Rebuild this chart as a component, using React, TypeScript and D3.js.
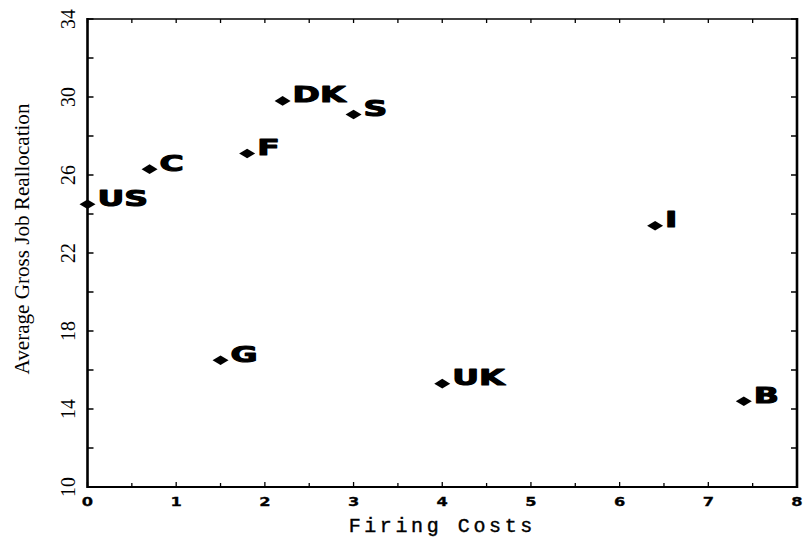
import React from "react";
import * as d3 from "d3";

// Country codes with firing costs (x) and average gross job reallocation (y)
const countries = ["US", "C", "F", "DK", "S", "G", "UK", "I", "B"];
const firingCosts = [0, 0.7, 1.8, 2.2, 3.0, 1.5, 4.0, 6.4, 7.4];
const reallocation = [24.5, 26.3, 27.1, 29.8, 29.1, 16.5, 15.3, 23.4, 14.4];

const xTicks = [0, 1, 2, 3, 4, 5, 6, 7, 8];
const xMinorTicks = d3.range(0, 8.01, 0.5);
const yTicks = [10, 14, 18, 22, 26, 30, 34];
const yMinorTicks = d3.range(10, 34.01, 2);

const W = 806;
const H = 542;
const left = 87.5;
const right = 797;
const top = 19;
const bottom = 487;

export default function App() {
  const x = d3.scaleLinear().domain([0, 8]).range([left, right]);
  const y = d3.scaleLinear().domain([10, 34]).range([bottom, top]);

  const diamond = (cx: number, cy: number) =>
    `M${cx - 8},${cy} L${cx},${cy - 4.8} L${cx + 8},${cy} L${cx},${cy + 4.8} Z`;

  return (
    <svg
      width={W}
      height={H}
      style={{ position: "absolute", left: 0, top: 0, background: "#fff" }}
    >
      {/* frame */}
      <line x1={left} x2={left} y1={top - 1} y2={bottom + 1} stroke="#000" strokeWidth={2.6} />
      <line x1={right} x2={right} y1={top - 1} y2={bottom + 1} stroke="#000" strokeWidth={2.6} />
      <line x1={left} x2={right} y1={top} y2={top} stroke="#000" strokeWidth={1.6} />
      <line x1={left} x2={right} y1={bottom} y2={bottom} stroke="#000" strokeWidth={2.2} />

      {/* x ticks (top and bottom, inward) */}
      {xMinorTicks.map((t) => {
        const major = Number.isInteger(t);
        return (
          <g key={"xt" + t}>
            <line x1={x(t)} x2={x(t)} y1={bottom} y2={bottom - (major ? 5 : 4)} stroke="#000" strokeWidth={1.3} />
            <line x1={x(t)} x2={x(t)} y1={top} y2={top + 4} stroke="#000" strokeWidth={1.3} />
          </g>
        );
      })}

      {/* y ticks (left and right, inward) */}
      {yMinorTicks.map((t) => (
        <g key={"yt" + t}>
          <line x1={left} x2={left + 6} y1={y(t)} y2={y(t)} stroke="#000" strokeWidth={1.5} />
          <line x1={right} x2={right - 6} y1={y(t)} y2={y(t)} stroke="#000" strokeWidth={1.5} />
        </g>
      ))}

      {/* x tick labels */}
      {xTicks.map((t) => (
        <text
          key={"xl" + t}
          transform={`translate(${x(t)},${bottom + 19}) scale(1.25,1)`}
          textAnchor="middle"
          fontFamily="DejaVu Sans"
          fontWeight="bold"
          fontSize={13}
          stroke="#000"
          strokeWidth={0.3}
        >
          {t}
        </text>
      ))}

      {/* y tick labels, rotated */}
      {yTicks.map((t) => (
        <text
          key={"yl" + t}
          transform={`translate(75,${y(t)}) rotate(-90) scale(0.9,1)`}
          textAnchor="middle"
          fontFamily="Liberation Serif"
          fontSize={22}
        >
          {t}
        </text>
      ))}

      {/* axis titles */}
      <text
        x={(left + right) / 2}
        y={532}
        textAnchor="middle"
        fontFamily="Liberation Mono"
        fontSize={20}
        letterSpacing={3.6}
        stroke="#000"
        strokeWidth={0.4}
      >
        Firing Costs
      </text>
      <text
        transform={`translate(29,${(top + bottom) / 2 - 14}) rotate(-90) scale(0.96,1)`}
        textAnchor="middle"
        fontFamily="Liberation Serif"
        fontSize={22}
      >
        Average Gross Job Reallocation
      </text>

      {/* points and country labels */}
      {countries.map((c, i) => {
        const cx = x(firingCosts[i]);
        const cy = y(reallocation[i]);
        return (
          <g key={c}>
            <path d={diamond(cx, cy)} fill="#000" />
            <text
              transform={`translate(${cx + 10},${cy + 1.5}) scale(1.5,1)`}
              fontFamily="DejaVu Sans"
              fontWeight="bold"
              fontSize={22}
              stroke="#000"
              strokeWidth={1.1}
              strokeLinejoin="round"
            >
              {c}
            </text>
          </g>
        );
      })}
    </svg>
  );
}
